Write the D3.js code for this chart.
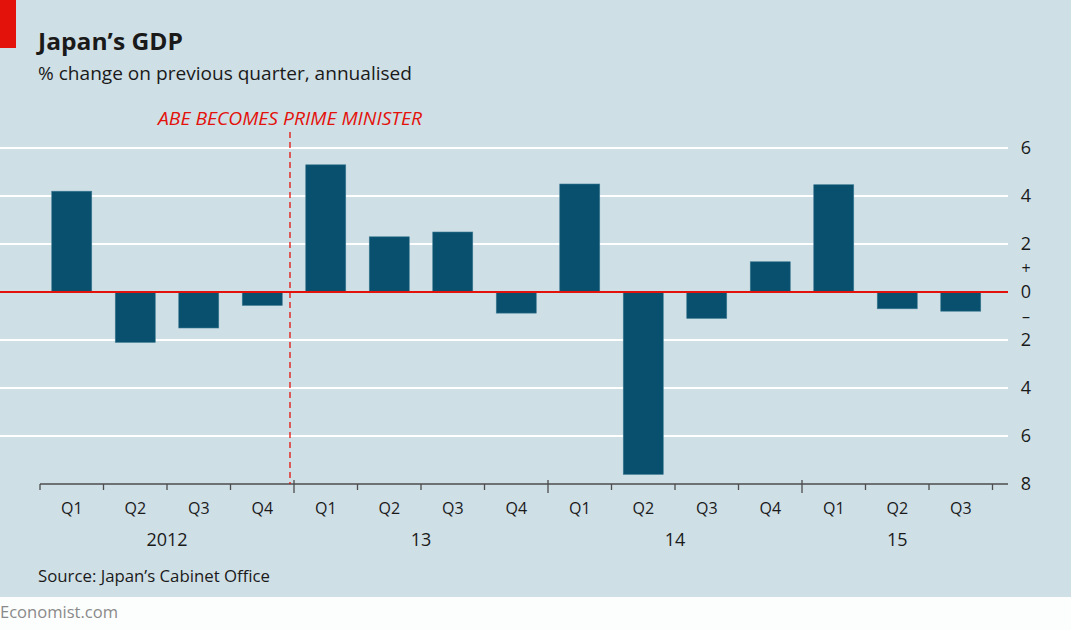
<!DOCTYPE html>
<html>
<head>
<meta charset="utf-8">
<script src="https://cdn.jsdelivr.net/npm/d3@7"></script>
<style>
  html, body { margin: 0; padding: 0; background: #fcfefd; }
  svg { display: block; }
  text { font-family: "Open Sans", Roboto, sans-serif; }
</style>
</head>
<body>
<svg id="chart" width="1071" height="630"></svg>
<script>
const quarters = ["Q1","Q2","Q3","Q4","Q1","Q2","Q3","Q4","Q1","Q2","Q3","Q4","Q1","Q2","Q3"];
const periods = ["2012Q1","2012Q2","2012Q3","2012Q4","2013Q1","2013Q2","2013Q3","2013Q4","2014Q1","2014Q2","2014Q3","2014Q4","2015Q1","2015Q2","2015Q3"];
const gdpChange = [4.2, -2.1, -1.5, -0.56, 5.3, 2.3, 2.5, -0.88, 4.5, -7.6, -1.1, 1.26, 4.47, -0.7, -0.8];
const yearLabels = ["2012","13","14","15"];
const yearStartIndex = [0, 4, 8, 12];
const yTicks = [6, 4, 2, 0, -2, -4, -6, -8];
const yTickLabels = ["6","4","2","0","2","4","6","8"];
const annotationText = "ABE BECOMES PRIME MINISTER";
const annotationIndex = 4; // Abe took office at end of 2012 Q4

const svg = d3.select("#chart");
const W = 1071, H = 630;

// backgrounds
svg.append("rect").attr("x",0).attr("y",0).attr("width",W).attr("height",597).attr("fill","#cfdfe6");
svg.append("rect").attr("x",0).attr("y",597).attr("width",W).attr("height",H-597).attr("fill","#fcfefd");
svg.append("rect").attr("x",0).attr("y",0).attr("width",16).attr("height",48).attr("fill","#e3120b");

// titles
svg.append("text").attr("x",38).attr("y",50).attr("font-size",24).attr("font-weight",700)
  .attr("fill","#1a1a1a").attr("textLength",145).attr("lengthAdjust","spacingAndGlyphs").text("Japan\u2019s GDP");
svg.append("text").attr("x",38).attr("y",80).attr("font-size",18).attr("fill","#1a1a1a")
  .attr("textLength",374).attr("lengthAdjust","spacingAndGlyphs")
  .text("% change on previous quarter, annualised");

// scales
const x = d3.scaleBand().domain(periods).range([40, 40 + 63.5*15]).paddingInner(0.37).paddingOuter(0.185);
const xEdge = i => 40 + 63.5 * i; // quarter boundary
const y = d3.scaleLinear().domain([-8, 6]).range([484, 148]);

// gridlines
const gridEnd = 1008;
svg.append("g").selectAll("line").data(yTicks.filter(d => d !== 0 && d !== -8)).join("line")
  .attr("x1",0).attr("x2",gridEnd).attr("y1",d=>y(d)).attr("y2",d=>y(d))
  .attr("stroke","#ffffff").attr("stroke-width",2);

// bars
svg.append("g").selectAll("rect").data(gdpChange).join("rect")
  .attr("x",(d,i)=>x(periods[i]))
  .attr("width",x.bandwidth())
  .attr("y",d=>y(Math.max(0,d)))
  .attr("height",d=>Math.abs(y(d)-y(0)))
  .attr("fill","#08506d")
  .attr("stroke","#3f7b94").attr("stroke-width",0.6);

// zero line
svg.append("line").attr("x1",0).attr("x2",gridEnd).attr("y1",y(0)).attr("y2",y(0))
  .attr("stroke","#e3120b").attr("stroke-width",2);

// y labels
svg.append("g").selectAll("text").data(yTicks).join("text")
  .attr("x",1026).attr("y",d=>y(d)).attr("dy","0.36em").attr("text-anchor","middle")
  .attr("font-size",18).attr("fill","#1a1a1a").text((d,i)=>yTickLabels[i]);
svg.append("text").attr("x",1026).attr("y",y(1)).attr("dy","0.36em").attr("text-anchor","middle")
  .attr("font-size",16).attr("fill","#1a1a1a").text("+");
svg.append("text").attr("x",1026).attr("y",y(-1)).attr("dy","0.36em").attr("text-anchor","middle")
  .attr("font-size",16).attr("fill","#1a1a1a").text("\u2013");

// x axis
svg.append("line").attr("x1",40).attr("x2",gridEnd).attr("y1",484).attr("y2",484)
  .attr("stroke","#4d4d4d").attr("stroke-width",1.3);
const edges = d3.range(0, 16);
svg.append("g").selectAll("line").data(edges).join("line")
  .attr("x1",i=>xEdge(i)).attr("x2",i=>xEdge(i))
  .attr("y1",i=> (i%4===0 && i>0) ? 480 : 484)
  .attr("y2",i=> (i%4===0 && i>0) ? 493 : 490)
  .attr("stroke","#4d4d4d").attr("stroke-width",1.3);

// quarter labels
svg.append("g").selectAll("text").data(quarters).join("text")
  .attr("x",(d,i)=>x(periods[i]) + x.bandwidth()/2).attr("y",514)
  .attr("text-anchor","middle").attr("font-size",16).attr("fill","#1a1a1a").text(d=>d);

// year labels
svg.append("g").selectAll("text").data(yearLabels).join("text")
  .attr("x",(d,i)=> i===3 ? x(periods[13]) + x.bandwidth()/2 : (xEdge(yearStartIndex[i]) + xEdge(yearStartIndex[i]+4)) / 2)
  .attr("y",546).attr("text-anchor","middle").attr("font-size",18).attr("fill","#1a1a1a").text(d=>d);

// annotation
const annX = xEdge(annotationIndex) - 4;
svg.append("line").attr("x1",annX).attr("x2",annX).attr("y1",132).attr("y2",484)
  .attr("stroke","#e3120b").attr("stroke-width",1.3).attr("stroke-dasharray","6,4");
svg.append("text").attr("x",annX).attr("y",125).attr("text-anchor","middle")
  .attr("font-size",18).attr("font-style","italic").attr("fill","#e3120b")
  .attr("textLength",264).attr("lengthAdjust","spacingAndGlyphs").text(annotationText);

// source & footer
svg.append("text").attr("x",38).attr("y",582).attr("font-size",16).attr("fill","#1a1a1a")
  .attr("textLength",232).attr("lengthAdjust","spacingAndGlyphs")
  .text("Source: Japan\u2019s Cabinet Office");
svg.append("text").attr("x",0).attr("y",618).attr("font-size",17).attr("fill","#8a8a8a")
  .attr("textLength",118).attr("lengthAdjust","spacingAndGlyphs")
  .text("Economist.com");
</script>
</body>
</html>
